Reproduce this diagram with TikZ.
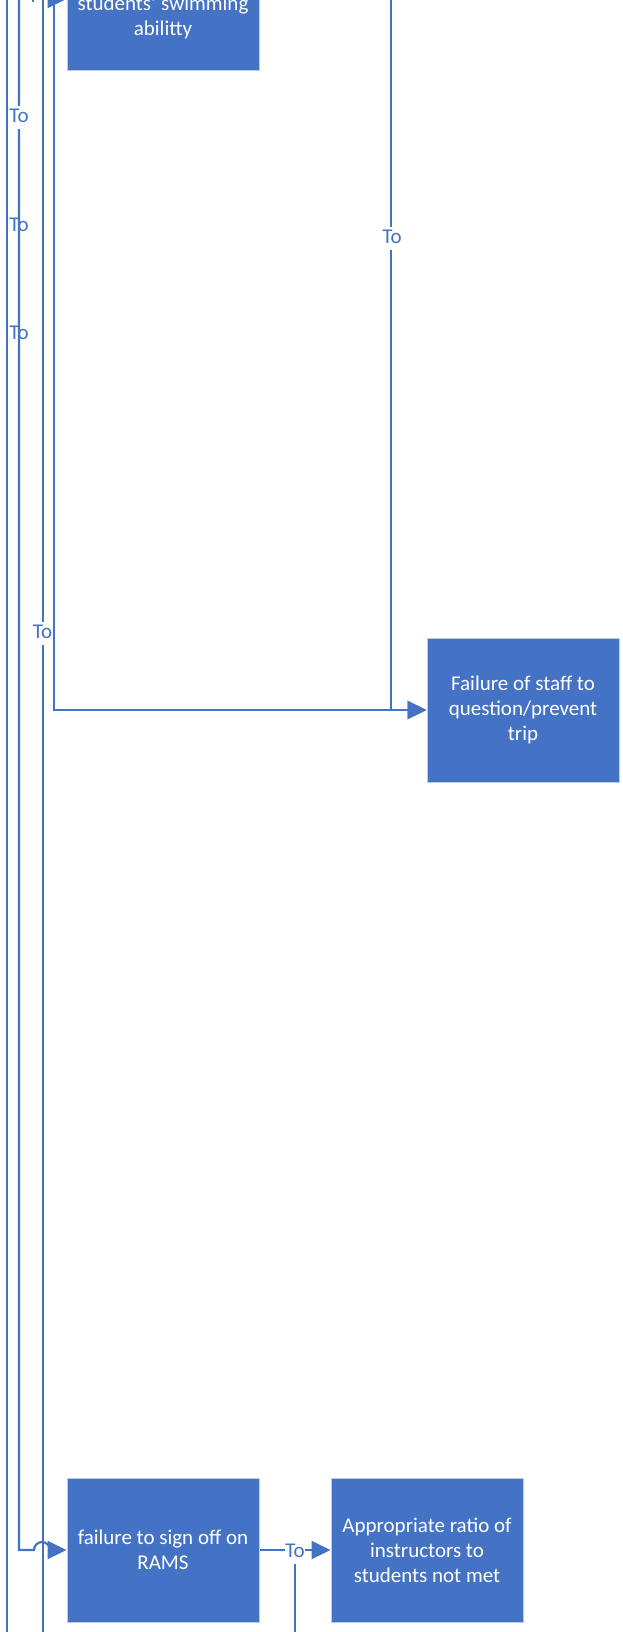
\documentclass[tikz,border=0pt]{standalone}
\usepackage{fontspec}
\setmainfont{Carlito}
\usetikzlibrary{arrows.meta}
\definecolor{vblue}{HTML}{4472C4}
\definecolor{vedge}{RGB}{196,204,220}
\begin{document}
\begin{tikzpicture}[x=1pt,y=-1pt,
  conn/.style={draw=vblue,line width=2.2pt},
  arr/.style={conn,-{Triangle[length=19pt,width=18pt]}},
  box/.style={rectangle,fill=vblue,draw=vedge,line width=1pt,minimum width=192pt,minimum height=144pt,inner sep=0pt,text=white,align=center,font=\fontsize{21}{25}\selectfont},
  boxtext/.style={text=white,align=center,inner sep=0pt,font=\fontsize{21}{25}\selectfont},
  lbl/.style={fill=white,inner xsep=0pt,inner ysep=3pt,text=vblue,font=\fontsize{21}{25}\selectfont,text height=13.5pt,text depth=3.5pt},
  lblo/.style={lbl,fill=none}]
\useasboundingbox (0,0) rectangle (623,1632);
\clip (0,0) rectangle (623,1632);
\fill[white] (0,0) rectangle (623,1632);

% boxes
\node[box] (top) at (163,-1) {};
\node[boxtext] (toptext) at (163,17) {students’ swimming\\abilitty};
\node[box] (fail) at (523,710) {Failure of staff to\\question/prevent\\trip};
\node[box] (rams) at (163,1550) {failure to sign off on\\RAMS};
\node[box] (ratio) at (427,1550) {Appropriate ratio of\\instructors to\\students not met};

% free ends
\coordinate (t7) at (7,-20);
\coordinate (b7) at (7,1660);
\coordinate (t19) at (19,-20);
\coordinate (t33) at (33,-20);
\coordinate (e33) at (33,2.5);
\coordinate (t43) at (43,-20);
\coordinate (b43) at (43,1660);
\coordinate (t54) at (54,-20);
\coordinate (t391) at (391,-20);
\coordinate (j295) at (295,1550);
\coordinate (b295) at (295,1660);

% connectors (under labels)
\draw[arr] (t19) -- (19,1550) -- (34,1550) arc[start angle=180,end angle=360,radius=8] -- (rams.west);
\draw[conn] (t43) -- (b43);
\draw[arr] (t391) |- (fail.west);
\draw[conn] (j295) -- (b295);
\draw[arr] (rams.east) -- (ratio.west);

% labels with background
\node[lbl] (l1) at (19,118) {To};
\node[lbl] (l4) at (42.5,633) {To};
\node[lbl] (l5) at (392,238) {To};
\node[lbl] (l6) at (295,1552) {To};

% connectors drawn over
\draw[conn] (t7) -- (b7);
\draw[arr] (t54) |- (fail.west);
\draw[conn] (t33) -- (e33);
\draw[arr] (33,-1) -- (top.west);

% labels without background
\node[lblo] (l2) at (19,226.5) {To};
\node[lblo] (l3) at (19,334.5) {To};
\end{tikzpicture}
\end{document}
